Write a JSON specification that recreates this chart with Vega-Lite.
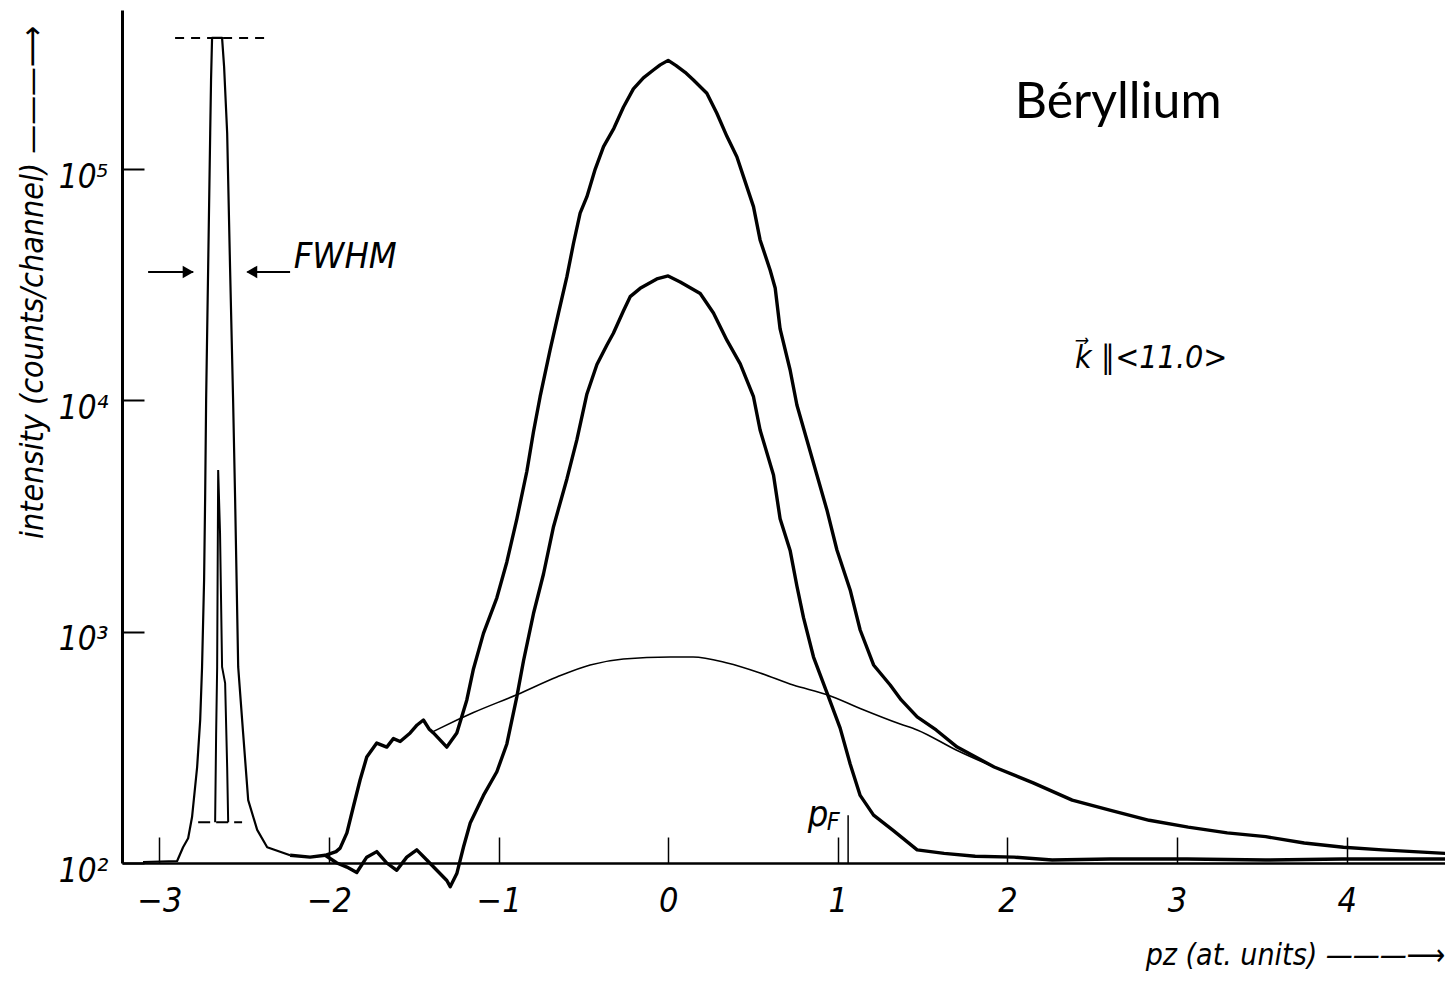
{
  "$schema": "https://vega.github.io/schema/vega-lite/v6.json",
  "width": 1323,
  "height": 853,
  "autosize": {"type": "none"},
  "padding": {"left": 122, "top": 10, "right": 0, "bottom": 119},
  "background": "white",
  "config": {
    "view": {"stroke": null},
    "font": "'DejaVu Sans Condensed', 'DejaVu Sans', sans-serif",
    "axis": {"grid": false, "domainColor": "black", "tickColor": "black", "labelColor": "black", "titleColor": "black"}
  },
  "datasets": {
    "upper": [
      {"p": -3.096, "c": 101}, {"p": -2.895, "c": 102}, {"p": -2.86, "c": 117}, {"p": -2.83, "c": 128},
      {"p": -2.807, "c": 158}, {"p": -2.777, "c": 260}, {"p": -2.759, "c": 415}, {"p": -2.748, "c": 704},
      {"p": -2.736, "c": 1673}, {"p": -2.73, "c": 3710}, {"p": -2.724, "c": 10040}, {"p": -2.712, "c": 37730},
      {"p": -2.7, "c": 143200}, {"p": -2.695, "c": 242800}, {"p": -2.689, "c": 368800}, {"p": -2.63, "c": 368800},
      {"p": -2.618, "c": 276400}, {"p": -2.6, "c": 143200}, {"p": -2.583, "c": 37730}, {"p": -2.565, "c": 10040},
      {"p": -2.553, "c": 3710}, {"p": -2.535, "c": 704}, {"p": -2.506, "c": 365}, {"p": -2.476, "c": 187},
      {"p": -2.423, "c": 139}, {"p": -2.364, "c": 117}, {"p": -2.229, "c": 108}, {"p": -2.111, "c": 106},
      {"p": -2.022, "c": 108}, {"p": -1.958, "c": 112}, {"p": -1.934, "c": 116}, {"p": -1.894, "c": 135},
      {"p": -1.856, "c": 175}, {"p": -1.816, "c": 229}, {"p": -1.777, "c": 287}, {"p": -1.718, "c": 330},
      {"p": -1.659, "c": 317}, {"p": -1.62, "c": 345}, {"p": -1.58, "c": 335}, {"p": -1.521, "c": 365},
      {"p": -1.48, "c": 395}, {"p": -1.443, "c": 415}, {"p": -1.41, "c": 380},
      {"p": -1.384, "c": 365}, {"p": -1.305, "c": 317}, {"p": -1.246, "c": 365}, {"p": -1.187, "c": 507},
      {"p": -1.148, "c": 690}, {"p": -1.089, "c": 983}, {"p": -1.01, "c": 1401}, {"p": -0.951, "c": 2002},
      {"p": -0.892, "c": 3077}, {"p": -0.833, "c": 4937}, {"p": -0.794, "c": 7316}, {"p": -0.755, "c": 10370},
      {"p": -0.696, "c": 16520}, {"p": -0.647, "c": 23800}, {"p": -0.597, "c": 34260}, {"p": -0.558, "c": 47780},
      {"p": -0.519, "c": 64420}, {"p": -0.479, "c": 75980}, {"p": -0.43, "c": 100000}, {"p": -0.381, "c": 125000},
      {"p": -0.32, "c": 150000}, {"p": -0.264, "c": 185000}, {"p": -0.205, "c": 222000}, {"p": -0.146, "c": 248000},
      {"p": -0.087, "c": 268000}, {"p": -0.047, "c": 282000}, {"p": 0, "c": 295000}, {"p": 0.047, "c": 280000},
      {"p": 0.1, "c": 262000}, {"p": 0.149, "c": 242800}, {"p": 0.228, "c": 212700}, {"p": 0.287, "c": 174300},
      {"p": 0.347, "c": 138100}, {"p": 0.405, "c": 113100}, {"p": 0.444, "c": 92710}, {"p": 0.503, "c": 68780},
      {"p": 0.542, "c": 49370}, {"p": 0.601, "c": 36630}, {"p": 0.631, "c": 30620}, {"p": 0.66, "c": 20360},
      {"p": 0.719, "c": 13530}, {"p": 0.759, "c": 9552}, {"p": 0.818, "c": 6743}, {"p": 0.877, "c": 4758},
      {"p": 0.936, "c": 3359}, {"p": 0.995, "c": 2255}, {"p": 1.073, "c": 1515}, {"p": 1.132, "c": 1017},
      {"p": 1.211, "c": 718}, {"p": 1.309, "c": 588}, {"p": 1.374, "c": 507}, {"p": 1.468, "c": 428},
      {"p": 1.58, "c": 376}, {"p": 1.704, "c": 317}, {"p": 1.922, "c": 260}, {"p": 2.152, "c": 222},
      {"p": 2.382, "c": 187}, {"p": 2.609, "c": 169}, {"p": 2.836, "c": 153}, {"p": 3.066, "c": 143},
      {"p": 3.296, "c": 135}, {"p": 3.523, "c": 130}, {"p": 3.75, "c": 122}, {"p": 3.981, "c": 117},
      {"p": 4.21, "c": 114}, {"p": 4.581, "c": 110}
    ],
    "lower": [
      {"p": -2.022, "c": 108}, {"p": -1.953, "c": 100}, {"p": -1.894, "c": 96}, {"p": -1.836, "c": 91},
      {"p": -1.777, "c": 106}, {"p": -1.718, "c": 112}, {"p": -1.659, "c": 100}, {"p": -1.6, "c": 93},
      {"p": -1.541, "c": 106}, {"p": -1.482, "c": 114}, {"p": -1.423, "c": 103}, {"p": -1.364, "c": 93},
      {"p": -1.305, "c": 84}, {"p": -1.285, "c": 79}, {"p": -1.246, "c": 90}, {"p": -1.207, "c": 117},
      {"p": -1.167, "c": 149}, {"p": -1.089, "c": 196}, {"p": -1.01, "c": 248}, {"p": -0.951, "c": 327},
      {"p": -0.892, "c": 524}, {"p": -0.853, "c": 747}, {"p": -0.794, "c": 1198}, {"p": -0.735, "c": 1776},
      {"p": -0.676, "c": 2844}, {"p": -0.597, "c": 4574}, {"p": -0.538, "c": 6763}, {"p": -0.479, "c": 10660},
      {"p": -0.42, "c": 14280}, {"p": -0.361, "c": 17360}, {"p": -0.323, "c": 19510}, {"p": -0.264, "c": 24350},
      {"p": -0.224, "c": 28070}, {"p": -0.165, "c": 30500}, {"p": -0.067, "c": 33500}, {"p": 0, "c": 34500},
      {"p": 0.071, "c": 32500}, {"p": 0.189, "c": 28980}, {"p": 0.267, "c": 23870}, {"p": 0.347, "c": 18160},
      {"p": 0.425, "c": 14370}, {"p": 0.503, "c": 10370}, {"p": 0.542, "c": 7448}, {"p": 0.621, "c": 4758},
      {"p": 0.66, "c": 3077}, {"p": 0.719, "c": 2246}, {"p": 0.759, "c": 1576}, {"p": 0.798, "c": 1150},
      {"p": 0.857, "c": 777}, {"p": 0.936, "c": 545}, {"p": 1.014, "c": 383}, {"p": 1.073, "c": 268},
      {"p": 1.132, "c": 196}, {"p": 1.211, "c": 161}, {"p": 1.328, "c": 138}, {"p": 1.468, "c": 114},
      {"p": 1.627, "c": 110}, {"p": 1.81, "c": 107}, {"p": 2.04, "c": 106}, {"p": 2.264, "c": 103},
      {"p": 2.606, "c": 104}, {"p": 3.06, "c": 104}, {"p": 3.52, "c": 103}, {"p": 3.974, "c": 104},
      {"p": 4.581, "c": 104}
    ],
    "inner": [
      {"p": -2.671, "c": 150}, {"p": -2.665, "c": 365}, {"p": -2.659, "c": 704}, {"p": -2.653, "c": 5000},
      {"p": -2.642, "c": 2670}, {"p": -2.63, "c": 704}, {"p": -2.612, "c": 600}, {"p": -2.6, "c": 260},
      {"p": -2.594, "c": 150}
    ],
    "smooth": [
      {"p": -1.392, "c": 368}, {"p": -1.344, "c": 383}, {"p": -1.148, "c": 447}, {"p": -0.892, "c": 534},
      {"p": -0.656, "c": 637}, {"p": -0.46, "c": 718}, {"p": -0.264, "c": 762}, {"p": 0.012, "c": 777},
      {"p": 0.147, "c": 777}, {"p": 0.348, "c": 732}, {"p": 0.542, "c": 663}, {"p": 0.737, "c": 588},
      {"p": 0.938, "c": 534}, {"p": 1.132, "c": 466}, {"p": 1.368, "c": 399}, {"p": 1.468, "c": 376},
      {"p": 1.698, "c": 308}, {"p": 1.922, "c": 260}, {"p": 2.152, "c": 222}
    ]
  },
  "encoding": {
    "x": {
      "field": "p", "type": "quantitative",
      "scale": {"type": "linear", "domain": [-3.22, 4.58], "nice": false, "zero": false},
      "axis": {
        "values": [-3, -2, -1, 0, 1, 2, 3, 4],
        "tickSize": -26, "tickWidth": 1.5, "domainWidth": 2.5,
        "labelFontSize": 34, "labelFontStyle": "italic", "labelPadding": 47, "labelFlush": false, "labelOverlap": false,
        "title": "pz (at. units) ———⟶",
        "titleFontSize": 30, "titleFontStyle": "italic", "titleFontWeight": "normal",
        "titleX": 1323, "titleY": 92, "titleAlign": "right", "titleBaseline": "middle", "titleAnchor": null
      }
    },
    "y": {
      "field": "c", "type": "quantitative",
      "scale": {"type": "log", "domain": [100, 487000], "nice": false},
      "axis": {
        "values": [100, 1000, 10000, 100000],
        "labelExpr": "datum.value == 100 ? '10²' : datum.value == 1000 ? '10³' : datum.value == 10000 ? '10⁴' : '10⁵'",
        "tickSize": -22, "tickWidth": 2, "domainWidth": 3,
        "labelFontSize": 33, "labelFontStyle": "italic", "labelPadding": 36, "labelOffset": 8,
        "title": "intensity (counts/channel) ———⟶",
        "titleFontSize": 32, "titleFontStyle": "italic", "titleFontWeight": "normal",
        "titleX": -90, "titleY": 272, "titleAlign": "center", "titleBaseline": "middle", "titleAngle": -90
      }
    }
  },
  "layer": [
    {"data": {"name": "upper"}, "transform": [{"filter": "datum.p <= -2.229"}], "mark": {"type": "line", "color": "black", "strokeWidth": 2.2, "clip": false, "strokeJoin": "round"}},
    {"data": {"name": "upper"}, "transform": [{"filter": "datum.p >= -2.229"}], "mark": {"type": "line", "color": "black", "strokeWidth": 3.4, "clip": false, "strokeJoin": "round"}},
    {"data": {"name": "lower"}, "mark": {"type": "line", "color": "black", "strokeWidth": 3.4, "clip": false, "strokeJoin": "round"}},
    {"data": {"name": "inner"}, "mark": {"type": "line", "color": "black", "strokeWidth": 2, "clip": false}},
    {"data": {"name": "smooth"}, "mark": {"type": "line", "color": "black", "strokeWidth": 1.6, "interpolate": "monotone", "clip": false}},
    {
      "data": {"values": [{"a": -2.907, "b": -2.376, "c": 368800}]},
      "mark": {"type": "rule", "color": "black", "strokeWidth": 2, "strokeDash": [9, 7]},
      "encoding": {"x": {"field": "a", "type": "quantitative"}, "x2": {"field": "b"}, "y": {"field": "c", "type": "quantitative"}}
    },
    {
      "data": {"values": [{"a": -2.771, "b": -2.512, "c": 150}]},
      "mark": {"type": "rule", "color": "black", "strokeWidth": 2, "strokeDash": [12, 6]},
      "encoding": {"x": {"field": "a", "type": "quantitative"}, "x2": {"field": "b"}, "y": {"field": "c", "type": "quantitative"}}
    },
    {
      "data": {"values": [{"a": -3.066, "b": -2.8, "c": 35900}, {"a": -2.48, "b": -2.229, "c": 35900}]},
      "mark": {"type": "rule", "color": "black", "strokeWidth": 2},
      "encoding": {"x": {"field": "a", "type": "quantitative"}, "x2": {"field": "b"}, "y": {"field": "c", "type": "quantitative"}}
    },
    {
      "data": {"values": [{"a": -2.83, "c": 35900}]},
      "mark": {"type": "point", "shape": "triangle-right", "filled": true, "color": "black", "size": 160, "opacity": 1},
      "encoding": {"x": {"field": "a", "type": "quantitative"}, "y": {"field": "c", "type": "quantitative"}}
    },
    {
      "data": {"values": [{"a": -2.455, "c": 35900}]},
      "mark": {"type": "point", "shape": "triangle-left", "filled": true, "color": "black", "size": 160, "opacity": 1},
      "encoding": {"x": {"field": "a", "type": "quantitative"}, "y": {"field": "c", "type": "quantitative"}}
    },
    {
      "data": {"values": [{"a": 0}]},
      "mark": {"type": "rule", "color": "black", "strokeWidth": 1.5},
      "encoding": {"x": {"field": "a", "type": "quantitative"}}
    },
    {
      "data": {"values": [{"c": 487000}]},
      "mark": {"type": "rule", "color": "black", "strokeWidth": 3},
      "encoding": {"y": {"field": "c", "type": "quantitative"}}
    },
    {
      "data": {"values": [{"a": 1.061, "c": 100, "d": 161}]},
      "mark": {"type": "rule", "color": "black", "strokeWidth": 1.5},
      "encoding": {"x": {"field": "a", "type": "quantitative"}, "y": {"field": "c", "type": "quantitative"}, "y2": {"field": "d"}}
    },
    {
      "data": {"values": [{"a": 2.653, "c": 166000, "t": "Béryllium"}]},
      "mark": {"type": "text", "font": "Lato", "fontSize": 50, "align": "center", "baseline": "alphabetic", "color": "black"},
      "encoding": {"x": {"field": "a", "type": "quantitative"}, "y": {"field": "c", "type": "quantitative"}, "text": {"field": "t"}}
    },
    {
      "data": {"values": [{"a": 2.848, "c": 13800, "t": "k⃗ ∥<11.0>"}]},
      "mark": {"type": "text", "fontSize": 32, "fontStyle": "italic", "align": "center", "baseline": "alphabetic", "color": "black"},
      "encoding": {"x": {"field": "a", "type": "quantitative"}, "y": {"field": "c", "type": "quantitative"}, "text": {"field": "t"}}
    },
    {
      "data": {"values": [{"a": -1.904, "c": 37360, "t": "FWHM"}]},
      "mark": {"type": "text", "fontSize": 36, "fontStyle": "italic", "align": "center", "baseline": "alphabetic", "color": "black"},
      "encoding": {"x": {"field": "a", "type": "quantitative"}, "y": {"field": "c", "type": "quantitative"}, "text": {"field": "t"}}
    },
    {
      "data": {"values": [{"a": 0.884, "c": 144, "t": "p"}]},
      "mark": {"type": "text", "fontSize": 36, "fontStyle": "italic", "align": "center", "baseline": "alphabetic", "color": "black"},
      "encoding": {"x": {"field": "a", "type": "quantitative"}, "y": {"field": "c", "type": "quantitative"}, "text": {"field": "t"}}
    },
    {
      "data": {"values": [{"a": 0.973, "c": 139, "t": "F"}]},
      "mark": {"type": "text", "fontSize": 25, "fontStyle": "italic", "align": "center", "baseline": "alphabetic", "color": "black"},
      "encoding": {"x": {"field": "a", "type": "quantitative"}, "y": {"field": "c", "type": "quantitative"}, "text": {"field": "t"}}
    }
  ]
}
